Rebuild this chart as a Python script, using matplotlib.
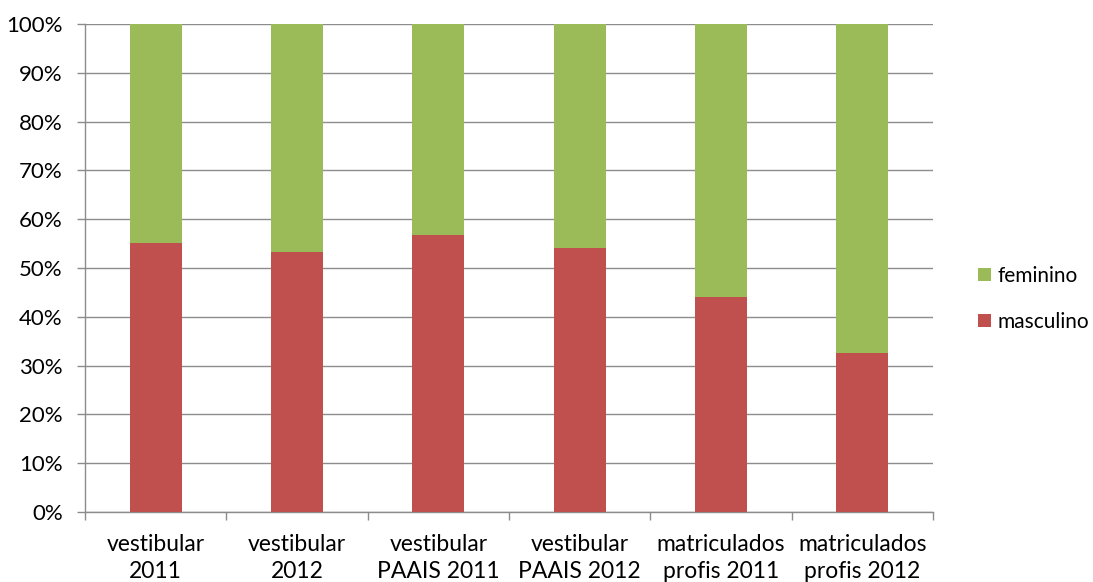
import matplotlib.pyplot as plt
import numpy as np

# categories and values (share of masculino, in %)
categorias = ['vestibular\n2011', 'vestibular\n2012', 'vestibular\nPAAIS 2011',
              'vestibular\nPAAIS 2012', 'matriculados\nprofis 2011', 'matriculados\nprofis 2012']
masculino = [55.2, 53.2, 56.7, 54.2, 44.1, 32.5]
feminino = [100 - m for m in masculino]

plt.rcParams['font.family'] = ['Lato', 'DejaVu Sans']
fs = 16.5

fig = plt.figure(figsize=(10.93, 5.82), dpi=100)
ax = fig.add_axes([85 / 1093, 1 - 512 / 582, 848 / 1093, 488 / 582])

x = np.arange(len(categorias))
w = 0.37
b1 = ax.bar(x, masculino, w, color='#C0504D', label='masculino', zorder=3)
b2 = ax.bar(x, feminino, w, bottom=masculino, color='#9BBB59', label='feminino', zorder=3)

ax.set_xlim(-0.5, len(categorias) - 0.5)
ax.set_ylim(0, 100)
ax.set_yticks(np.arange(0, 101, 10))
ax.set_yticklabels([f'{v}%' for v in range(0, 101, 10)], fontsize=16)
ax.yaxis.grid(True, color='#8c8c8c', linewidth=1, zorder=0)

# tick marks between categories, labels centred under bars
ax.set_xticks(np.arange(-0.5, len(categorias)), minor=False)
ax.set_xticklabels([])
ax.set_xticks(x, minor=True)
ax.set_xticklabels(categorias, minor=True, fontsize=fs, linespacing=1.35)
ax.tick_params(axis='x', which='minor', length=0, pad=16)
ax.tick_params(axis='x', which='major', length=6, color='#8c8c8c', width=1)
ax.tick_params(axis='y', length=6, color='#8c8c8c', width=1, pad=10)

for s in ['top', 'right']:
    ax.spines[s].set_visible(False)
for s in ['left', 'bottom']:
    ax.spines[s].set_color('#8c8c8c')
    ax.spines[s].set_linewidth(1)

fig.legend([b2, b1], ['feminino', 'masculino'], loc='center left',
           bbox_to_anchor=(970 / 1093, 1 - 299 / 582), frameon=False,
           fontsize=15, handlelength=0.62, handleheight=0.62,
           handletextpad=0.3, labelspacing=1.25, borderaxespad=0)

fig.savefig('out.png', dpi=100)
